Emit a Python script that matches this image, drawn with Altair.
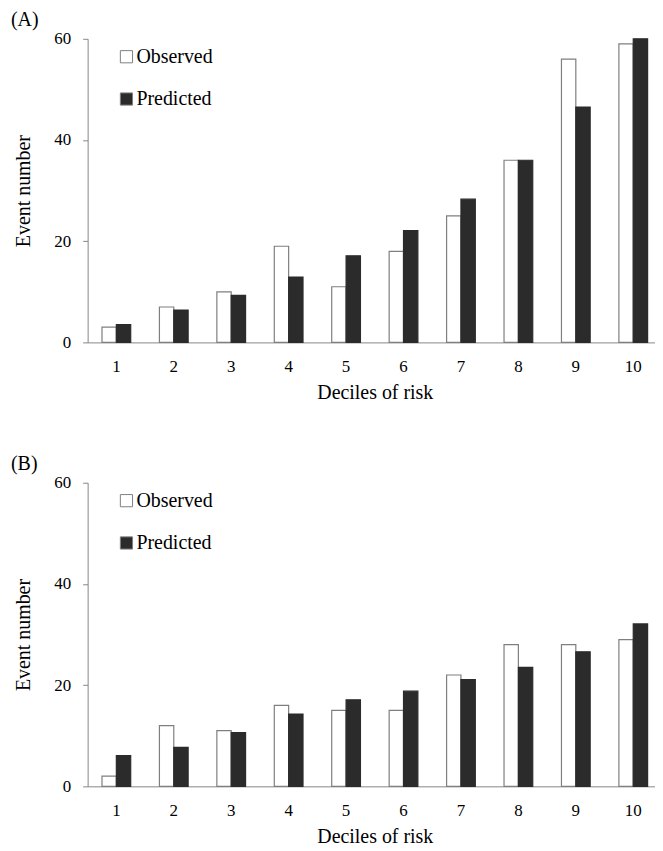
import altair as alt
import pandas as pd

FONT = "Liberation Serif"

deciles = [str(i) for i in range(1, 11)]
series = ["Observed", "Predicted"]

obs_a = [3, 7, 10, 19, 11, 18, 25, 36, 56, 59]
pred_a = [3.5, 6.4, 9.3, 12.9, 17.1, 22.1, 28.3, 36.0, 46.5, 60.0]
obs_b = [2, 12, 11, 16, 15, 15, 22, 28, 28, 29]
pred_b = [6.1, 7.7, 10.6, 14.3, 17.1, 18.8, 21.1, 23.5, 26.6, 32.1]

y_ticks = [0, 20, 40, 60]


def make_df(obs, pred):
    rows = []
    for d, o, p in zip(deciles, obs, pred):
        rows.append({"decile": d, "series": "Observed", "value": o})
        rows.append({"decile": d, "series": "Predicted", "value": p})
    return pd.DataFrame(rows)


def panel(label, obs, pred):
    df = make_df(obs, pred)
    return (
        alt.Chart(
            df,
            title=alt.TitleParams(
                label, anchor="start", frame="bounds", fontSize=20, font=FONT,
                fontWeight="normal", color="#000000", offset=0, dx=-3,
            ),
        )
        .mark_bar(strokeWidth=1.2)
        .encode(
            x=alt.X(
                "decile:N", sort=deciles,
                scale=alt.Scale(paddingInner=0.5, paddingOuter=0.25),
                axis=alt.Axis(title="Deciles of risk", labelAngle=0, ticks=False,
                              labelPadding=16, titlePadding=8),
            ),
            xOffset=alt.XOffset("series:N", sort=series,
                                scale=alt.Scale(paddingInner=0, paddingOuter=0)),
            y=alt.Y(
                "value:Q",
                scale=alt.Scale(domain=[0, 60], nice=False),
                axis=alt.Axis(values=y_ticks, title="Event number", grid=False,
                              tickSize=5, labelPadding=12, titlePadding=20),
            ),
            fill=alt.Fill(
                "series:N", sort=series,
                scale=alt.Scale(domain=series, range=["#ffffff", "#2b2b2b"]),
                legend=alt.Legend(title=None, orient="none", legendX=29, legendY=8,
                                  symbolType="square", symbolSize=150,
                                  symbolStrokeColor="#7f7f7f", symbolStrokeWidth=1,
                                  labelFontSize=20, labelFont=FONT, labelColor="#000000",
                                  rowPadding=22.5, labelOffset=0),
            ),
            stroke=alt.Stroke(
                "series:N", sort=series,
                scale=alt.Scale(domain=series, range=["#7f7f7f", "#2b2b2b"]),
                legend=None,
            ),
        )
        .properties(width=577, height=305)
    )


chart = (
    alt.vconcat(panel("(A)", obs_a, pred_a), panel("(B)", obs_b, pred_b), spacing=52)
    .resolve_legend(fill="independent")
    .properties(padding={"left": 3, "top": 0, "right": -7, "bottom": 0})
    .configure_view(stroke=None)
    .configure_axis(
        domainColor="#868686", tickColor="#868686",
        labelFont=FONT, labelFontSize=17, labelColor="#000000",
        titleFont=FONT, titleFontSize=20, titleFontWeight="normal", titleColor="#000000",
    )
)

chart.save("out.html", embed_options={"renderer": "svg", "actions": False})
